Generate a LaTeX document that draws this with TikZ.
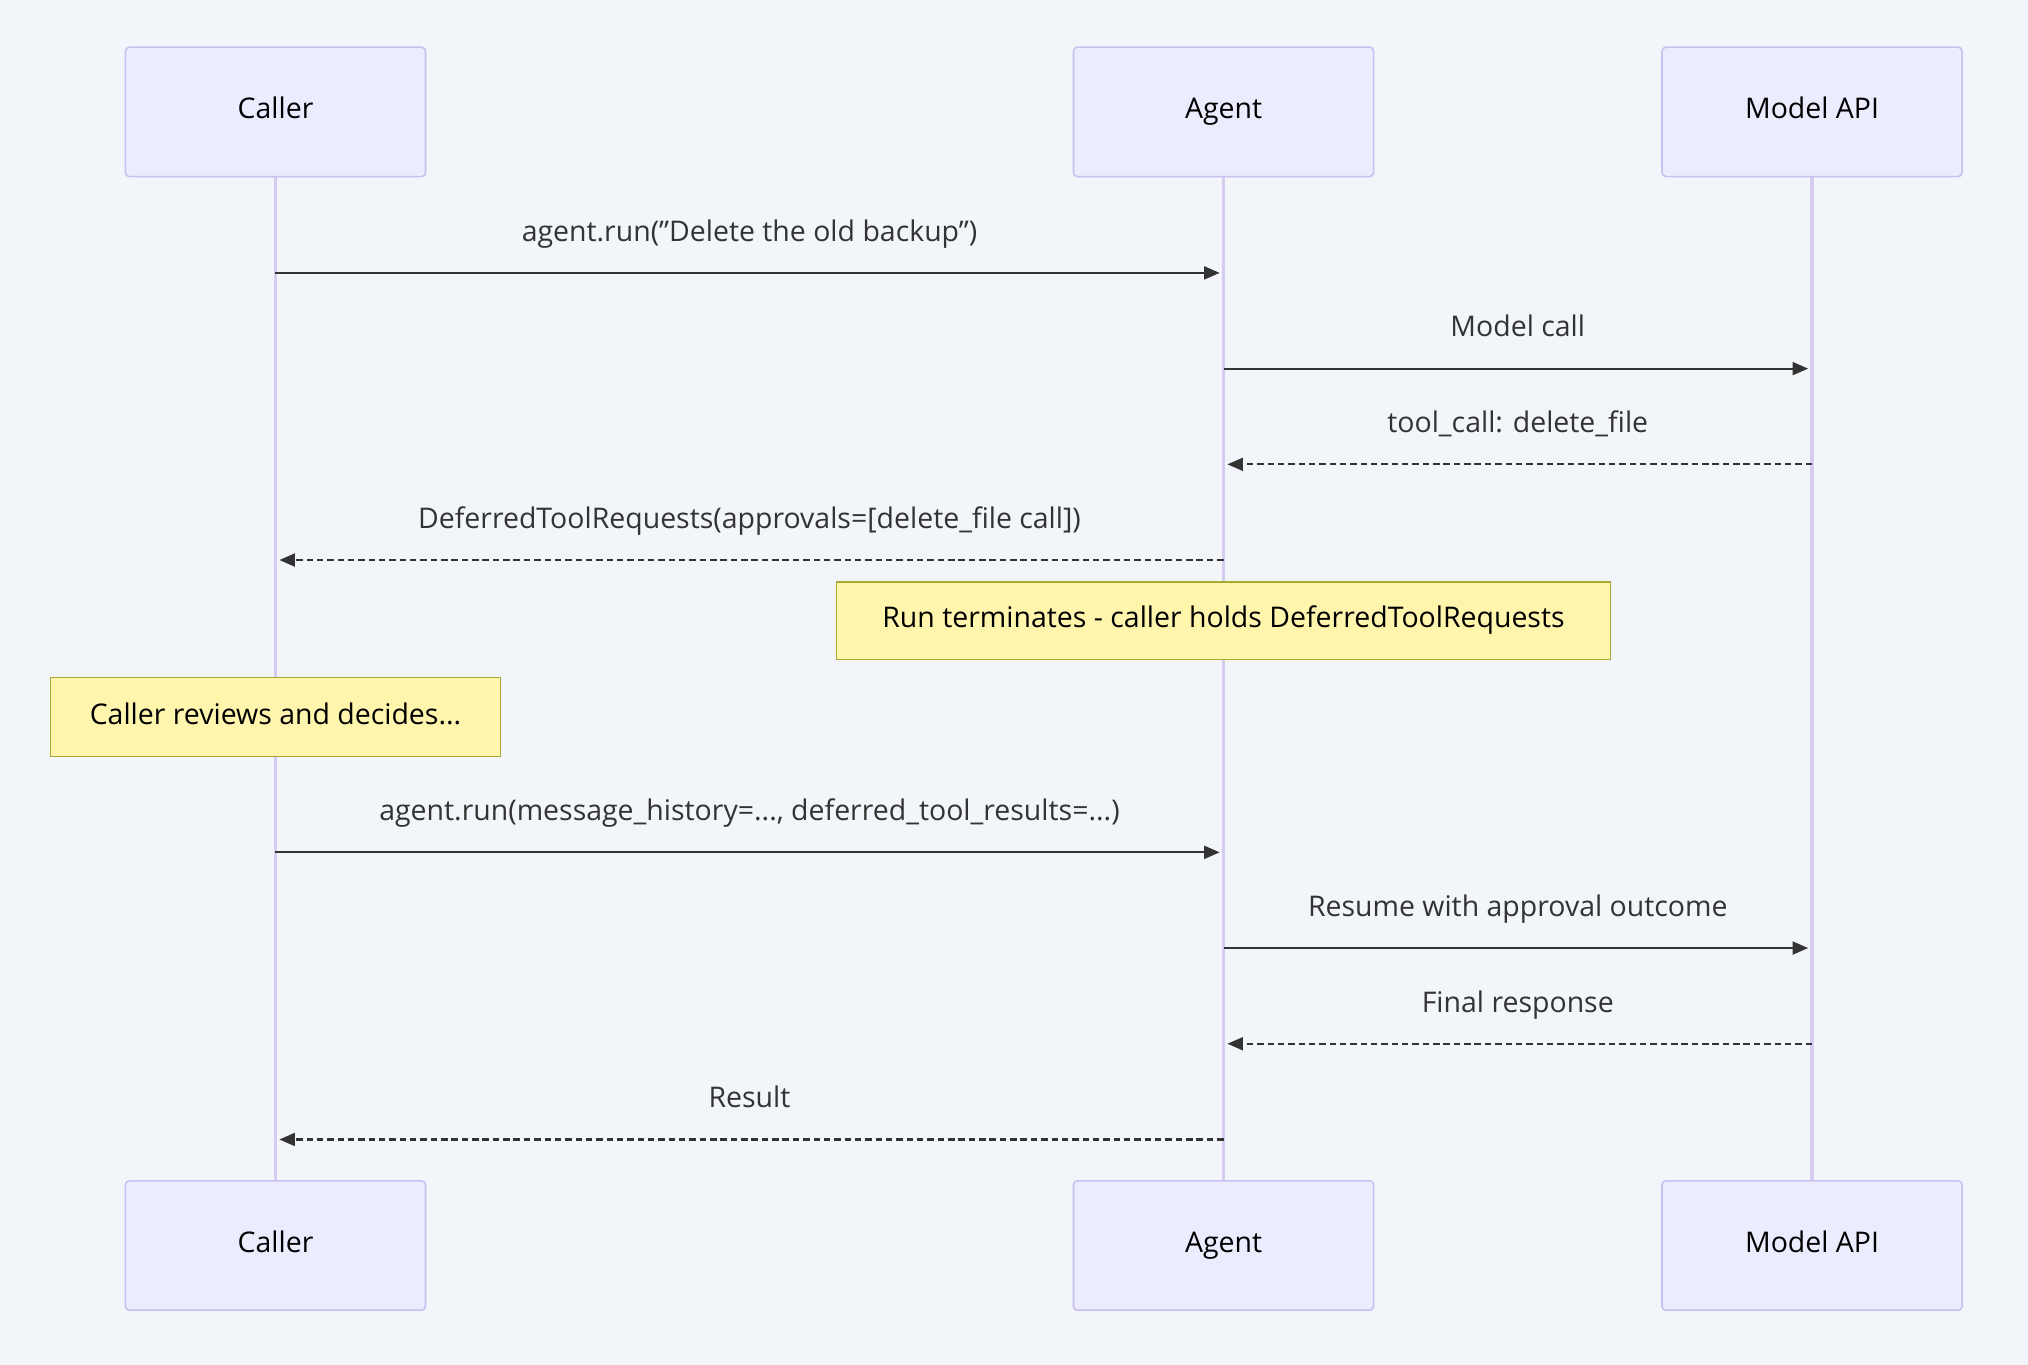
\documentclass[tikz,border=0pt]{standalone}
\usepackage{fontspec}
\setmainfont{Open Sans}
\usetikzlibrary{arrows.meta}
\definecolor{bg}{HTML}{F2F5F9}
\definecolor{actfill}{HTML}{ECECFF}
\definecolor{actdraw}{HTML}{C9BFF0}
\definecolor{life}{HTML}{D5CCEF}
\definecolor{notefill}{HTML}{FFF5AD}
\definecolor{notedraw}{HTML}{AAAA33}
\definecolor{ink}{HTML}{333333}
\newcommand{\dq}{\symbol{34}}
\begin{document}
\begin{tikzpicture}[x=0.5pt,y=-0.5pt,
 fnt/.style={font=\fontsize{11}{13}\selectfont,text height=8pt,text depth=2.5pt},
 actor/.style={fnt,draw=actdraw,fill=actfill,rounded corners=1.5pt,minimum width=116pt,minimum height=50pt,line width=0.6pt,text=black},
 note/.style={fnt,draw=notedraw,fill=notefill,line width=0.5pt,inner sep=0pt,text=black},
 msg/.style={draw=ink,line width=0.8pt,-{Triangle[length=6pt,width=5pt]},shorten >=1.5pt},
 dmsg/.style={msg,dash pattern=on 2.5pt off 1.5pt},
 lbl/.style={fnt,text=ink}]
\fill[bg] (0,0) rectangle (1568,1055);
\useasboundingbox (0,0) rectangle (1568,1055);
\foreach \n/\x/\t in {c/213/Caller,a/946/Agent,m/1401/Model API}{
 \draw[life,line width=1.2pt] (\x,136) -- (\x,913);
 \node[actor] (\n top) at (\x,86.5) {\t};
 \node[actor] (\n bot) at (\x,963) {\t};
}
\foreach \n/\x in {c/213,a/946,m/1401}{
 \foreach \y in {211,285,359,433,659,733,807,881}{\coordinate (\n\y) at (\x,\y);}
}
\draw[msg] (c211) -- (a211) node[lbl,midway,above=6pt] {agent.run(\dq Delete the old backup\dq)};
\draw[msg] (a285) -- (m285) node[lbl,midway,above=6pt] {Model call};
\draw[dmsg] (m359) -- (a359) node[lbl,midway,above=6pt] {tool\_call: delete\_file};
\draw[dmsg] (a433) -- (c433) node[lbl,midway,above=6pt] {DeferredToolRequests(approvals=[delete\_file call])};
\node[note,minimum width=299pt,minimum height=30pt] (n1) at (946,480) {Run terminates - caller holds DeferredToolRequests};
\node[note,minimum width=174pt,minimum height=30.5pt] (n2) at (213,554.5) {Caller reviews and decides...};
\draw[msg] (c659) -- (a659) node[lbl,midway,above=6pt] {agent.run(message\_history=..., deferred\_tool\_results=...)};
\draw[msg] (a733) -- (m733) node[lbl,midway,above=6pt] {Resume with approval outcome};
\draw[dmsg] (m807) -- (a807) node[lbl,midway,above=6pt] {Final response};
\draw[dmsg] (a881) -- (c881) node[lbl,midway,above=6pt] {Result};
\end{tikzpicture}
\end{document}
